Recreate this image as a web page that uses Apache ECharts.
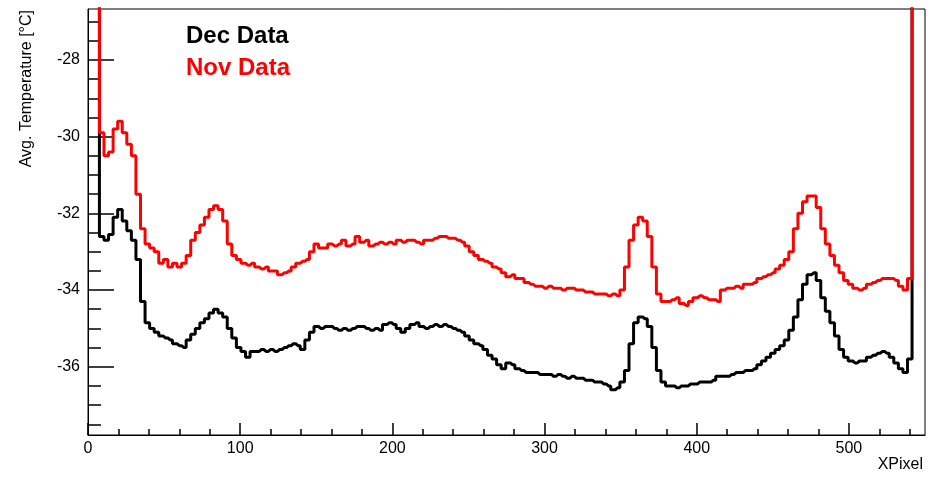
<!DOCTYPE html>
<html>
<head>
  <meta charset="utf-8">
  <title>Avg. Temperature</title>
  <script src="https://cdn.jsdelivr.net/npm/echarts@6/dist/echarts.min.js"></script>
  <style>
    html, body { margin: 0; padding: 0; background: #fff; }
    #main { width: 940px; height: 478px; }
  </style>
</head>
<body>
<div id="main"></div>
<script>
// bin positions (XPixel), every 3 pixels
var xPix = [];
for (var i = 6; i <= 543; i += 3) xPix.push(i);

// Nov data (red), one value per entry of xPix; -26 means off the top
var novVals = [
  -26, -29.9, -30.5, -30.4, -29.8, -29.6, -29.9, -30.2, -30.5, -31.5,
  -32.4, -32.8, -32.9, -33.0, -33.3, -33.2, -33.4, -33.3, -33.4, -33.3,
  -33.1, -32.7, -32.5, -32.3, -32.1, -31.9, -31.8, -31.9, -32.2, -32.8,
  -33.1, -33.2, -33.3, -33.35, -33.3, -33.4, -33.45, -33.4, -33.5, -33.5,
  -33.6, -33.55, -33.5, -33.4, -33.3, -33.25, -33.2, -33.0, -32.8, -32.9,
  -32.9, -32.8, -32.85, -32.8, -32.7, -32.85, -32.8, -32.6, -32.75, -32.7,
  -32.85, -32.8, -32.75, -32.8, -32.75, -32.8, -32.7, -32.75, -32.7, -32.7,
  -32.75, -32.8, -32.7, -32.7, -32.65, -32.6, -32.6, -32.65, -32.65, -32.7,
  -32.75, -32.85, -33.0, -33.1, -33.2, -33.25, -33.3, -33.4, -33.45, -33.55,
  -33.65, -33.6, -33.7, -33.7, -33.8, -33.85, -33.9, -33.9, -33.95, -33.9,
  -33.95, -33.95, -34.0, -33.95, -33.95, -34.0, -34.0, -34.05, -34.05, -34.1,
  -34.1, -34.1, -34.15, -34.1, -34.15, -34.0, -33.4, -32.7, -32.3, -32.1,
  -32.2, -32.6, -33.4, -34.1, -34.3, -34.3, -34.25, -34.2, -34.35, -34.4,
  -34.3, -34.2, -34.15, -34.2, -34.25, -34.25, -34.3, -34.0, -33.95, -33.95,
  -33.9, -33.95, -33.85, -33.85, -33.8, -33.7, -33.65, -33.6, -33.55, -33.45,
  -33.35, -33.2, -33.0, -32.4, -32.0, -31.7, -31.55, -31.55, -31.85, -32.4,
  -32.8, -33.1, -33.35, -33.55, -33.75, -33.85, -33.95, -34.0, -33.95, -33.85,
  -33.8, -33.75, -33.7, -33.7, -33.7, -33.75, -33.9, -34.0, -33.7, -26
];

// Dec data (black)
var decVals = [
  -26, -32.6, -32.7, -32.55, -32.1, -31.9, -32.2, -32.45, -32.7, -33.2,
  -34.3, -34.85, -35.0, -35.1, -35.2, -35.25, -35.3, -35.4, -35.45, -35.5,
  -35.3, -35.15, -35.0, -34.85, -34.75, -34.6, -34.5, -34.6, -34.7, -35.0,
  -35.25, -35.5, -35.6, -35.75, -35.6, -35.6, -35.55, -35.6, -35.55, -35.6,
  -35.55, -35.5, -35.45, -35.4, -35.45, -35.55, -35.3, -35.1, -34.95, -35.0,
  -34.95, -34.95, -35.0, -35.05, -35.0, -35.05, -35.0, -34.95, -34.95, -35.0,
  -35.05, -35.0, -35.05, -34.9, -34.85, -34.9, -35.0, -35.1, -35.0, -34.9,
  -34.85, -34.95, -35.0, -34.95, -34.9, -34.95, -34.9, -34.95, -35.0, -35.05,
  -35.1, -35.2, -35.3, -35.4, -35.45, -35.55, -35.7, -35.8, -35.95, -36.05,
  -35.9, -35.95, -36.05, -36.1, -36.15, -36.15, -36.15, -36.2, -36.2, -36.2,
  -36.25, -36.2, -36.25, -36.3, -36.25, -36.3, -36.3, -36.35, -36.35, -36.4,
  -36.4, -36.45, -36.5, -36.6, -36.55, -36.4, -36.1, -35.4, -34.85, -34.7,
  -34.75, -34.95, -35.5, -36.1, -36.4, -36.5, -36.5, -36.55, -36.5, -36.5,
  -36.45, -36.45, -36.4, -36.4, -36.4, -36.35, -36.25, -36.25, -36.25, -36.2,
  -36.15, -36.15, -36.1, -36.1, -36.05, -35.95, -35.85, -35.75, -35.65, -35.55,
  -35.45, -35.3, -35.05, -34.7, -34.25, -33.85, -33.6, -33.55, -33.75, -34.2,
  -34.55, -34.85, -35.2, -35.55, -35.75, -35.85, -35.9, -35.85, -35.85, -35.75,
  -35.7, -35.65, -35.6, -35.65, -35.75, -35.9, -36.05, -36.15, -35.8, -26
];

var yMajor = [-36, -34, -32, -30, -28];
var yMinor = [];
for (var v = -37.5; v <= -27; v += 0.5) yMinor.push(v);
var xMajor = [0, 100, 200, 300, 400, 500];
var xMinor = [];
for (var u = 20; u <= 540; u += 20) xMinor.push(u);

var yMin = -37.78, yMax = -26.67;
var font = '"Liberation Sans", Arial, sans-serif';

function pairs(vals) {
  return xPix.map(function (x, i) { return [x, vals[i]]; });
}

var myChart = echarts.init(document.getElementById('main'));

var option = {
  animation: false,
  backgroundColor: '#fff',
  grid: {
    left: 88, right: 15, top: 9, bottom: 43,
    show: true, borderColor: '#000', borderWidth: 1, backgroundColor: 'transparent'
  },
  xAxis: [{
    type: 'value', min: 0, max: 550,
    axisLine: { show: true, onZero: false, lineStyle: { color: '#000', width: 1 } },
    axisTick: { show: true, inside: true, length: 12, customValues: xMajor, lineStyle: { color: '#000', width: 1.5 } },
    axisLabel: { customValues: xMajor, color: '#000', fontFamily: font, fontSize: 16, margin: 6 },
    splitLine: { show: false }
  }, {
    type: 'value', min: 0, max: 550, position: 'bottom',
    axisLine: { show: false },
    axisTick: { show: true, inside: true, length: 6, customValues: xMinor, lineStyle: { color: '#000', width: 1.5 } },
    axisLabel: { show: false },
    splitLine: { show: false }
  }],
  yAxis: [{
    type: 'value', min: yMin, max: yMax,
    axisLine: { show: true, onZero: false, lineStyle: { color: '#000', width: 1 } },
    axisTick: { show: true, inside: true, length: 26, customValues: yMajor, lineStyle: { color: '#000', width: 1.5 } },
    axisLabel: { customValues: yMajor, color: '#000', fontFamily: font, fontSize: 16, margin: 8 },
    splitLine: { show: false }
  }, {
    type: 'value', min: yMin, max: yMax, position: 'left',
    axisLine: { show: false },
    axisTick: { show: true, inside: true, length: 13, customValues: yMinor, lineStyle: { color: '#000', width: 1.5 } },
    axisLabel: { show: false },
    splitLine: { show: false }
  }],
  graphic: [
    { type: 'text', left: 186, top: 24, style: { text: 'Dec Data', fill: '#000', font: 'bold 24px ' + font } },
    { type: 'text', left: 186, top: 56, style: { text: 'Nov Data', fill: '#ff0000', font: 'bold 24px ' + font } },
    { type: 'text', x: 923, y: 465, style: { text: 'XPixel', fill: '#000', font: '16px ' + font, align: 'right', verticalAlign: 'middle' } },
    { type: 'text', x: 27, y: 10, rotation: Math.PI / 2, style: { text: 'Avg. Temperature [\u00b0C]', fill: '#000', font: '16px ' + font, align: 'right', verticalAlign: 'middle' } }
  ],
  series: [{
    name: 'Dec Data', type: 'line', step: 'middle', symbol: 'none',
    xAxisIndex: 0, yAxisIndex: 0,
    lineStyle: { color: '#000', width: 3 },
    data: pairs(decVals)
  }, {
    name: 'Nov Data', type: 'line', step: 'middle', symbol: 'none',
    xAxisIndex: 0, yAxisIndex: 0,
    lineStyle: { color: '#ff0000', width: 3 },
    data: pairs(novVals)
  }]
};

myChart.setOption(option);
</script>
</body>
</html>
